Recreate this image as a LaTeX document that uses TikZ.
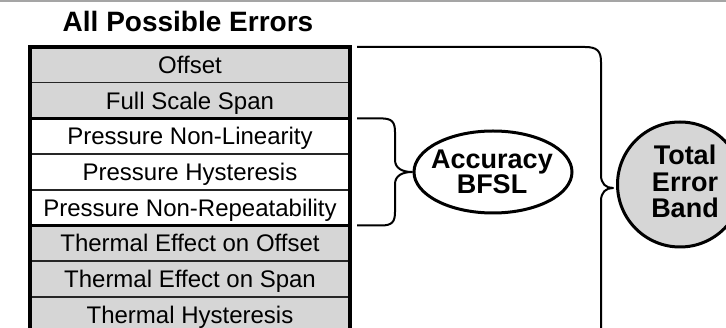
\documentclass[tikz,border=0pt]{standalone}
\usepackage{fontspec}
\setmainfont{Liberation Sans}
\usetikzlibrary{shapes.geometric}
\definecolor{cellgray}{RGB}{214,214,214}
\definecolor{topgray}{RGB}{165,165,165}
\begin{document}
\begin{tikzpicture}[x=1pt,y=-1pt,
  rowtext/.style={font=\fontsize{24}{24}\selectfont, anchor=base, inner sep=0pt},
  elltext/.style={font=\bfseries\fontsize{27}{24.5}\selectfont, align=center, inner sep=0pt},
  circtext/.style={font=\bfseries\fontsize{27}{26.5}\selectfont, align=center, inner sep=0pt},
  thinrule/.style={line width=1.5pt, draw=black!85},
  thickrule/.style={line width=3.5pt},
  bracestyle/.style={line width=2pt, line join=round},
]
\useasboundingbox (0,0) rectangle (726,328);
\clip (0,0) rectangle (726,328);
\draw[topgray, line width=2pt] (0,1) -- (726,1);
\node[font=\bfseries\fontsize{28}{28}\selectfont, anchor=base, inner sep=0pt] (title) at (188,32) {All Possible Errors};
% fills
\fill[cellgray] (30,47) rectangle (350,118.4);
\fill[white] (30,118.4) rectangle (350,225.5);
\fill[cellgray] (30,225.5) rectangle (350,345);
% row texts
\foreach \t [count=\i] in {Offset, Full Scale Span, Pressure Non-Linearity, Pressure Hysteresis, Pressure Non-Repeatability, Thermal Effect on Offset, Thermal Effect on Span, Thermal Hysteresis}
  \node[rowtext] (r\i) at (190,{47+35.7*(\i-0.5)+8.6}) {\t};
% thin rules
\foreach \yy in {82.7,154.1,189.8,261.2,296.9}
  \draw[thinrule] (30,\yy) -- (350,\yy);
% thick rules
\foreach \yy in {118.4,225.5}
  \draw[thickrule] (30,\yy) -- (350,\yy);
\draw[thickrule] (30,345) -- (30,47) -- (350,47) -- (350,345);
% small brace
\draw[bracestyle] (357,118.4) -- (381,118.4) .. controls (392,118.4) and (395,122) .. (395,132) -- (395,160) .. controls (395,168) and (402,172) .. (412,172) .. controls (402,172) and (395,176) .. (395,184) -- (395,212) .. controls (395,222) and (392,225.5) .. (381,225.5) -- (357,225.5);
% big brace
\draw[bracestyle] (357,47) -- (585,47) .. controls (597,47) and (601,51) .. (601,62) -- (601,175) .. controls (601,184) and (606,188) .. (613,188) .. controls (606,188) and (601,192) .. (601,201) -- (601,330) .. controls (601,341) and (597,345) .. (585,345) -- (357,345);
% ellipse
\node[draw, ellipse, line width=3pt, minimum width=158pt, minimum height=82pt, inner sep=0pt] (acc) at (493,172) {};
\node[elltext] (acct) at (492,172) {Accuracy\\BFSL};
% circle
\node[draw, circle, fill=cellgray, line width=3pt, minimum size=125pt, inner sep=0pt] (teb) at (680,184.5) {};
\node[circtext] (tebt) at (685,181.8) {Total\\Error\\Band};
\end{tikzpicture}
\end{document}
